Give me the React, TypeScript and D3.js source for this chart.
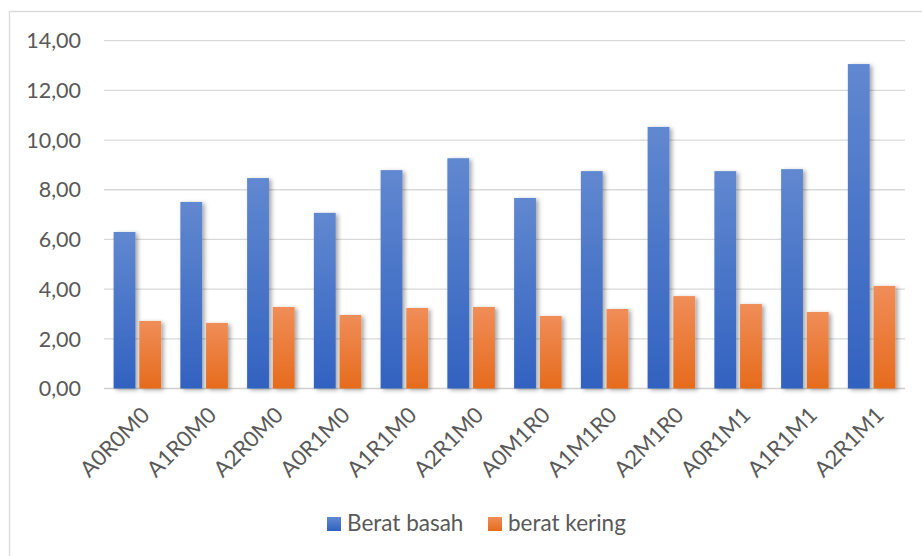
import React from "react";
import * as d3 from "d3";

const categories = [
  "A0R0M0", "A1R0M0", "A2R0M0", "A0R1M0", "A1R1M0", "A2R1M0",
  "A0M1R0", "A1M1R0", "A2M1R0", "A0R1M1", "A1R1M1", "A2R1M1",
];
const beratBasah = [6.3, 7.51, 8.47, 7.07, 8.79, 9.27, 7.67, 8.75, 10.53, 8.75, 8.83, 13.06];
const beratKering = [2.72, 2.64, 3.28, 2.96, 3.24, 3.28, 2.92, 3.2, 3.72, 3.4, 3.08, 4.13];
const seriesNames = ["Berat basah", "berat kering"];
const yTicks = [0, 2, 4, 6, 8, 10, 12, 14];

const W = 922;
const H = 556;
const plot = { left: 104, right: 905, top: 40.7, bottom: 388.5 };
const font = "Lato, 'Open Sans', sans-serif";
const textColor = "#595959";

export default function App() {
  const y = d3.scaleLinear().domain([0, 14]).range([plot.bottom, plot.top]);
  const x0 = d3.scaleBand<string>()
    .domain(categories)
    .range([plot.left, plot.right])
    .paddingInner(0.288)
    .paddingOuter(0.144);
  const x1 = d3.scaleBand<string>()
    .domain(seriesNames)
    .range([0, x0.bandwidth()])
    .paddingInner(0.15);

  const values = [beratBasah, beratKering];
  const fills = ["url(#gBlue)", "url(#gOrange)"];
  const fmt = (v: number) => d3.format(".2f")(v).replace(".", ",");

  return (
    <svg width={W} height={H} style={{ position: "absolute", left: 0, top: 0, background: "#fff" }}>
      <defs>
        <linearGradient id="gBlue" x1="0" y1="0" x2="0" y2="1">
          <stop offset="0%" stopColor="#6188d0" />
          <stop offset="100%" stopColor="#3262c0" />
        </linearGradient>
        <linearGradient id="gOrange" x1="0" y1="0" x2="0" y2="1">
          <stop offset="0%" stopColor="#f08d58" />
          <stop offset="100%" stopColor="#e66b1c" />
        </linearGradient>
        <filter id="shadow" x="-30%" y="-10%" width="170%" height="130%">
          <feDropShadow dx="2.5" dy="1.5" stdDeviation="2" floodColor="#000" floodOpacity="0.35" />
        </filter>
      </defs>

      {/* chart frame */}
      <rect x={9.5} y={11.5} width={W + 20} height={H + 20} fill="none" stroke="#d9d9d9" strokeWidth={1.3} />

      {/* gridlines */}
      {yTicks.map((t) => (
        <line key={t} x1={plot.left} x2={plot.right} y1={y(t)} y2={y(t)}
          stroke={t === 0 ? "#d0d0d0" : "#d9d9d9"} strokeWidth={t === 0 ? 1.6 : 1.3} />
      ))}

      {/* y labels */}
      {yTicks.map((t) => (
        <text key={t} x={81} y={y(t)} dy="0.36em" textAnchor="end"
          fontFamily={font} fontSize={21.5} fill={textColor}>{fmt(t)}</text>
      ))}

      {/* bars */}
      {categories.map((c, i) => (
        <g key={c} transform={`translate(${x0(c)},0)`}>
          {seriesNames.map((s, k) => (
            <rect key={s} x={x1(s)} y={y(values[k][i])} width={x1.bandwidth()}
              height={y(0) - y(values[k][i])} fill={fills[k]} filter="url(#shadow)" />
          ))}
        </g>
      ))}

      {/* x labels */}
      {categories.map((c) => {
        const cx = (x0(c) as number) + x0.bandwidth() / 2 + 8;
        const cy = 411;
        return (
          <text key={c} x={cx} y={cy} dy="0.36em" textAnchor="end"
            transform={`rotate(-45,${cx},${cy})`}
            fontFamily={font} fontSize={22} fill={textColor}>{c}</text>
        );
      })}

      {/* legend */}
      {[{ x: 327 }, { x: 488 }].map((p, k) => (
        <g key={seriesNames[k]} transform={`translate(${p.x},517)`}>
          <rect x={0} y={0} width={14} height={14} fill={fills[k]} />
          <text x={20} y={14} fontFamily={font} fontSize={22.5} fill={textColor}>{seriesNames[k]}</text>
        </g>
      ))}
    </svg>
  );
}
